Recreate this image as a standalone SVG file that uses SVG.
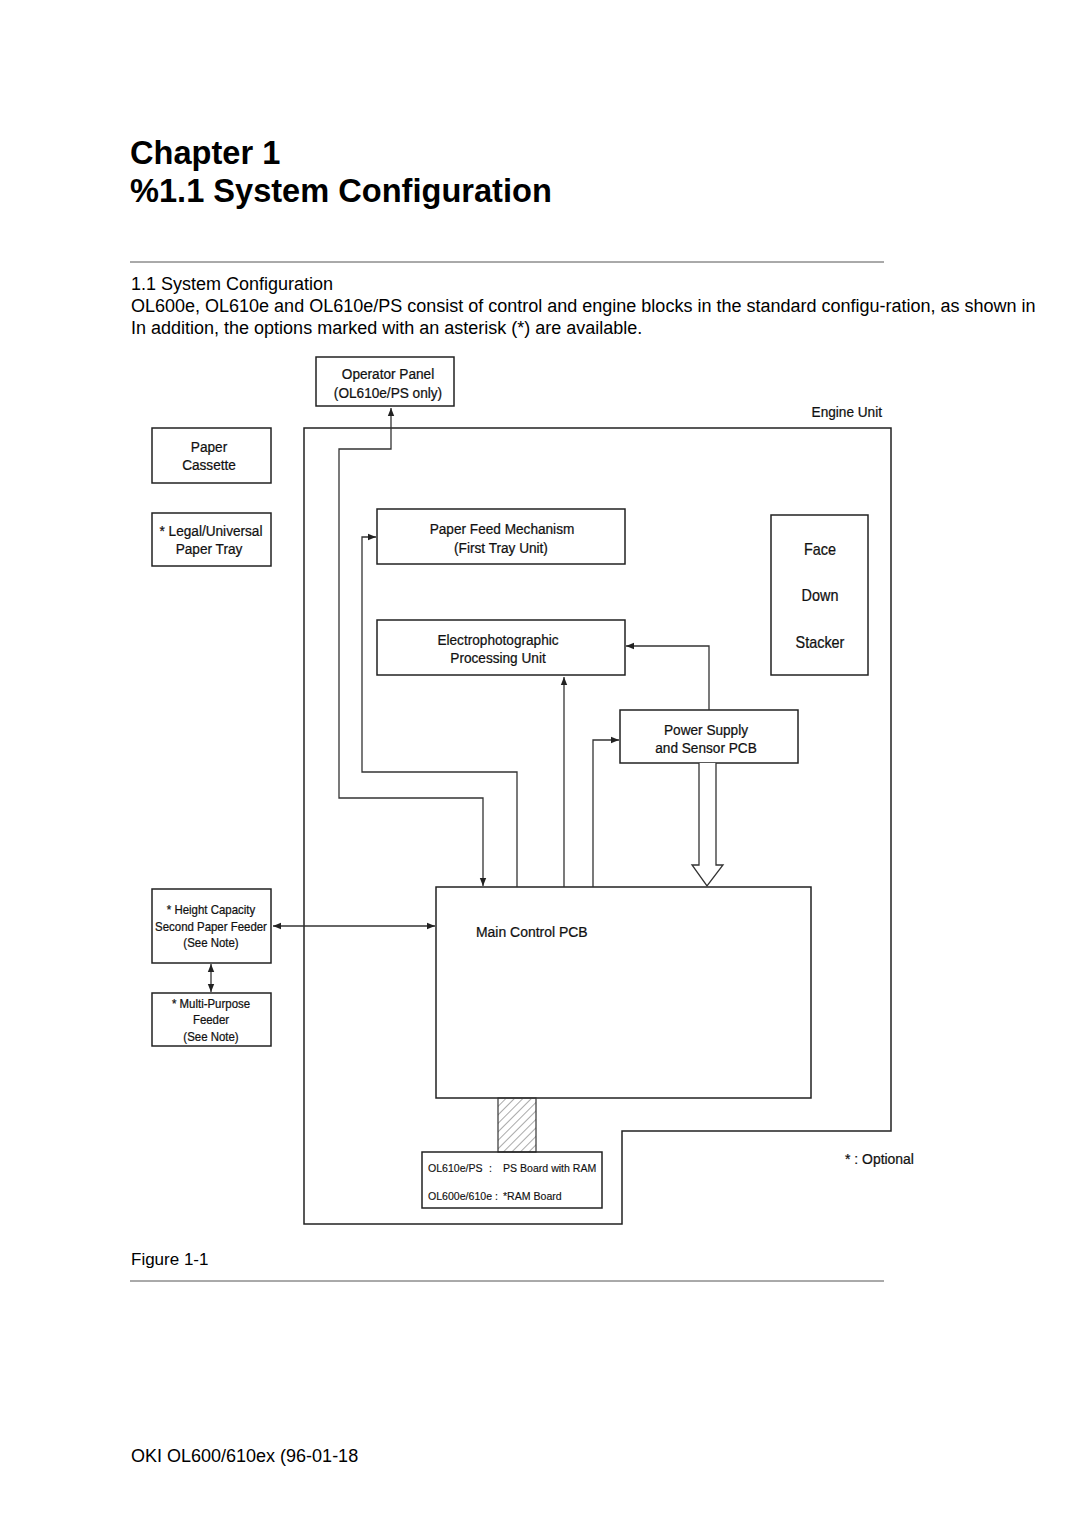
<svg xmlns="http://www.w3.org/2000/svg" width="1080" height="1528" viewBox="0 0 1080 1528">
<style>
.doc{font-family:"Liberation Sans",Arial,sans-serif;fill:#000}
.h{font-size:32.6px;font-weight:bold}
.b{font-size:18px}
.lbl{font-family:"Liberation Sans",Arial,sans-serif;font-size:15.5px;fill:#111;text-anchor:middle;stroke:#111;stroke-width:0.25}
.sm{font-size:13px}
.xs{font-family:"Liberation Sans",Arial,sans-serif;font-size:11.5px;fill:#111;stroke:#111;stroke-width:0.15}
.box{fill:none;stroke:#222;stroke-width:1.5}
.ln{fill:none;stroke:#333;stroke-width:1.3}
.rule{stroke:#555;stroke-width:1}
</style>
<defs>
<marker id="ah" viewBox="0 0 10 10" refX="10" refY="5" markerWidth="8" markerHeight="8" markerUnits="userSpaceOnUse" orient="auto-start-reverse">
<path d="M0,1 L10,5 L0,9 z" fill="#222"/>
</marker>
<pattern id="hatch" width="6" height="6" patternUnits="userSpaceOnUse" patternTransform="rotate(45)">
<line x1="0" y1="0" x2="0" y2="6" stroke="#555" stroke-width="1"/>
</pattern>
</defs>
<rect width="1080" height="1528" fill="#fff"/>

<text class="doc h" x="130" y="164">Chapter 1</text>
<text class="doc h" x="130" y="202">%1.1 System Configuration</text>
<line class="rule" x1="130" y1="262" x2="884" y2="262"/>
<text class="doc b" x="131" y="290">1.1 System Configuration</text>
<text class="doc b" x="131" y="312">OL600e, OL610e and OL610e/PS consist of control and engine blocks in the standard configu-ration, as shown in</text>
<text class="doc b" x="131" y="334">In addition, the options marked with an asterisk (*) are available.</text>

<g id="engine-unit">
<path class="box" d="M304,428 H891 V1131 H622 V1224 H304 Z"/>
<text class="lbl" transform="translate(882,417) scale(0.88,1)" style="text-anchor:end">Engine Unit</text>
</g>

<g id="operator-panel">
<rect class="box" x="316" y="357" width="138" height="49"/>
<text class="lbl" transform="translate(388,379) scale(0.88,1)">Operator Panel</text>
<text class="lbl" transform="translate(388,398) scale(0.88,1)">(OL610e/PS only)</text>
</g>

<g id="paper-cassette">
<rect class="box" x="152" y="428" width="119" height="55"/>
<text class="lbl" transform="translate(209,452) scale(0.88,1)">Paper</text>
<text class="lbl" transform="translate(209,470) scale(0.88,1)">Cassette</text>
</g>

<g id="legal-tray">
<rect class="box" x="152" y="513" width="119" height="53"/>
<text class="lbl" transform="translate(211,536) scale(0.88,1)">* Legal/Universal</text>
<text class="lbl" transform="translate(209,554) scale(0.88,1)">Paper Tray</text>
</g>

<g id="paper-feed">
<rect class="box" x="377" y="509" width="248" height="55"/>
<text class="lbl" transform="translate(502,534) scale(0.88,1)">Paper Feed Mechanism</text>
<text class="lbl" transform="translate(501,553) scale(0.88,1)">(First Tray Unit)</text>
</g>

<g id="epu">
<rect class="box" x="377" y="620" width="248" height="55"/>
<text class="lbl" transform="translate(498,645) scale(0.88,1)">Electrophotographic</text>
<text class="lbl" transform="translate(498,663) scale(0.88,1)">Processing Unit</text>
</g>

<g id="stacker">
<rect class="box" x="771" y="515" width="97" height="160"/>
<text class="lbl" transform="translate(820,555) scale(0.9,1)" style="font-size:16px">Face</text>
<text class="lbl" transform="translate(820,601) scale(0.9,1)" style="font-size:16px">Down</text>
<text class="lbl" transform="translate(820,648) scale(0.9,1)" style="font-size:16px">Stacker</text>
</g>

<g id="power-supply">
<rect class="box" x="620" y="710" width="178" height="53"/>
<text class="lbl" transform="translate(706,735) scale(0.88,1)">Power Supply</text>
<text class="lbl" transform="translate(706,753) scale(0.88,1)">and Sensor PCB</text>
</g>

<g id="main-control">
<rect class="box" x="436" y="887" width="375" height="211"/>
<text class="lbl" transform="translate(476,937) scale(0.9,1)" style="text-anchor:start">Main Control PCB</text>
</g>

<g id="hcf">
<rect class="box" x="152" y="889" width="119" height="74"/>
<text class="lbl sm" transform="translate(211,914) scale(0.88,1)">* Height Capacity</text>
<text class="lbl sm" transform="translate(211,931) scale(0.88,1)">Second Paper Feeder</text>
<text class="lbl sm" transform="translate(211,947) scale(0.88,1)">(See Note)</text>
</g>

<g id="mpf">
<rect class="box" x="152" y="993" width="119" height="53"/>
<text class="lbl sm" transform="translate(211,1008) scale(0.88,1)">* Multi-Purpose</text>
<text class="lbl sm" transform="translate(211,1024) scale(0.88,1)">Feeder</text>
<text class="lbl sm" transform="translate(211,1041) scale(0.88,1)">(See Note)</text>
</g>

<g id="ram-board">
<rect x="498" y="1098" width="38" height="54" fill="url(#hatch)" stroke="#333" stroke-width="1.2"/>
<rect class="box" x="422" y="1152" width="180" height="56" fill="#fff"/>
<text class="xs" transform="translate(428,1172) scale(0.92,1)">OL610e/PS</text>
<text class="xs" transform="translate(489,1172) scale(0.92,1)">:</text>
<text class="xs" transform="translate(503,1172) scale(0.92,1)">PS Board with RAM</text>
<text class="xs" transform="translate(428,1200) scale(0.92,1)">OL600e/610e :</text>
<text class="xs" transform="translate(503,1200) scale(0.92,1)">*RAM Board</text>
</g>

<g id="optional-note">
<text class="lbl" transform="translate(845,1164) scale(0.9,1)" style="text-anchor:start">* :  Optional</text>
</g>

<g id="connectors">
<path class="ln" d="M483,886 V798 H339 V449 H391 V408" marker-start="url(#ah)" marker-end="url(#ah)"/>
<path class="ln" d="M517,887 V772 H362 V537 H376" marker-end="url(#ah)"/>
<path class="ln" d="M564,887 V677" marker-end="url(#ah)"/>
<path class="ln" d="M593,887 V740 H619" marker-end="url(#ah)"/>
<path class="ln" d="M709,710 V646 H626" marker-end="url(#ah)"/>
<path class="ln" d="M273,926 H435" marker-start="url(#ah)" marker-end="url(#ah)"/>
<path class="ln" d="M211,964 V992" marker-start="url(#ah)" marker-end="url(#ah)"/>
<path d="M699,763 V865 H692 L707,886 L723,865 H716 V763" fill="#fff" stroke="#333" stroke-width="1.3"/>
</g>

<text class="doc" x="131" y="1265" style="font-size:17px">Figure 1-1</text>
<line class="rule" x1="130" y1="1281" x2="884" y2="1281"/>
<text class="doc b" x="131" y="1462">OKI OL600/610ex (96-01-18</text>
</svg>
